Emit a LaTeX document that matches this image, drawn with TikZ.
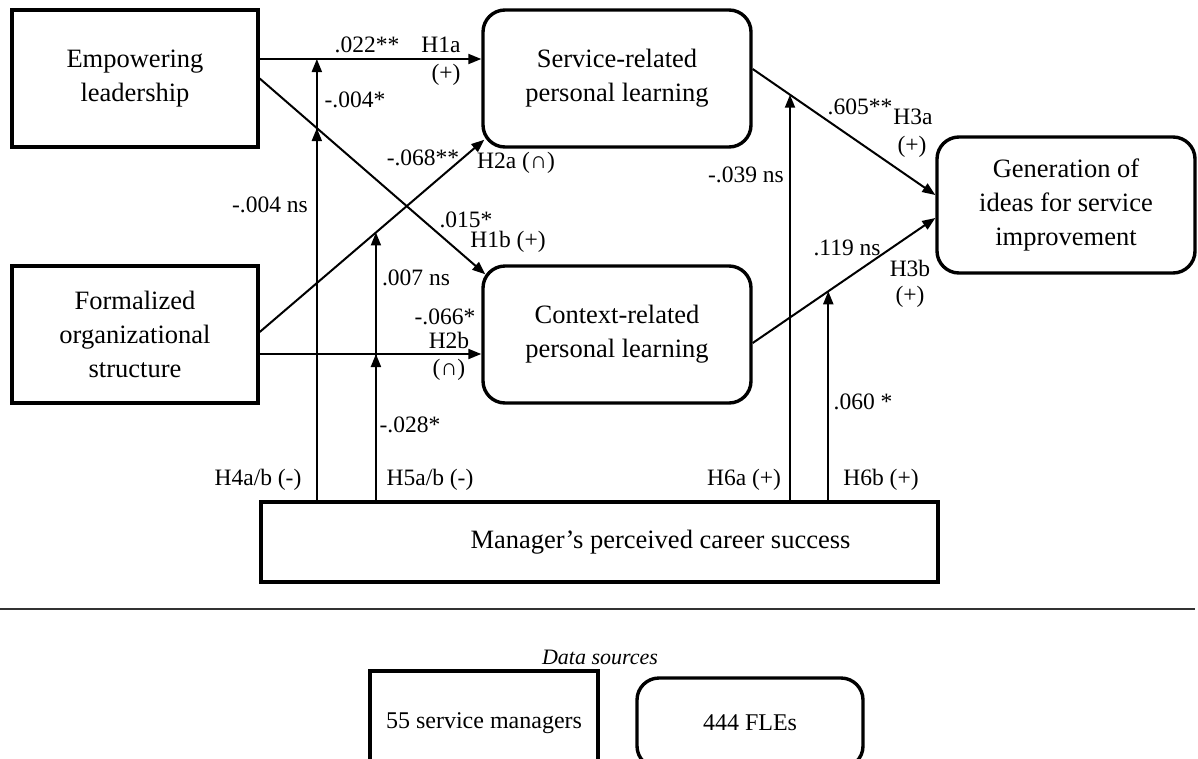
\documentclass[tikz,border=0pt]{standalone}
\usepackage{fontspec}
\setmainfont{Liberation Serif}
\usetikzlibrary{arrows.meta,calc}
\begin{document}
\begin{tikzpicture}[x=1pt,y=-1pt,
  every node/.style={font=\fontsize{23.5}{34}\selectfont, inner sep=0pt},
  boxfont/.style={font=\fontsize{26.5}{34}\selectfont},
  sqbox/.style={draw, line width=3.4pt, align=center, boxfont},
  rbox/.style={draw, line width=3.4pt, rounded corners=22pt, align=center, boxfont},
  arr/.style={line width=2pt, -{Triangle[length=13pt,width=10pt]}},
  lbl/.style={anchor=center}]
\useasboundingbox (0,0) rectangle (1198,758);

% boxes
\node[sqbox, minimum width=246pt, minimum height=137pt] (emp) at (135,78.5) {Empowering\\leadership};
\node[sqbox, minimum width=246pt, minimum height=137pt] (form) at (135,334.5) {Formalized\\organizational\\structure};
\node[rbox, minimum width=268pt, minimum height=137pt] (serv) at (617,78.5) {Service-related\\personal learning};
\node[rbox, minimum width=268pt, minimum height=137pt] (ctx) at (617,334.5) {Context-related\\personal learning};
\node[rbox, minimum width=258pt, minimum height=136pt] (gen) at (1066,205) {Generation of\\ideas for service\\improvement};
\node[sqbox, minimum width=677pt, minimum height=80pt] (man) at (599.5,542) {\hspace*{122pt}Manager’s perceived career success};

% connector start points
\coordinate (a1) at ($(emp.east)+(0,-19.5)$);
\coordinate (b1) at ($(form.east)+(0,-2.5)$);
\coordinate (b2) at ($(form.east)+(0,19.5)$);
\coordinate (c1) at ($(serv.east)+(0,-9.5)$);
\coordinate (c2) at ($(ctx.east)+(0,8.5)$);

% main paths
\draw[arr] (a1) -- (serv.west |- a1);
\draw[arr] (emp.east) -- coordinate[pos=0.2533] (p1) ($(ctx.north west)+(4,10)$);
\draw[arr] (b1) -- coordinate[pos=0.5175] (p2) ($(serv.south west)+(3,-9)$);
\draw[arr] (b2) -- (ctx.west |- b2);
\draw[arr] (c1) -- coordinate[pos=0.2043] (p3) ($(gen.west)+(0,-10)$);
\draw[arr] (c2) -- coordinate[pos=0.414] (p4) ($(gen.west)+(0,13)$);

% moderator paths
\draw[arr] (p1 |- man.north) -- (p1 |- a1);
\draw[arr] (p1 |- man.north) -- (p1);
\draw[arr] (p2 |- man.north) -- (p2);
\draw[arr] (p2 |- man.north) -- (p2 |- b2);
\draw[arr] (p3 |- man.north) -- (p3);
\draw[arr] (p4 |- man.north) -- (p4);

% labels
\node[lbl] (l1) at (367,45) {.022**};
\node[lbl] (l2) at (441,45) {H1a};
\node[lbl] (l3) at (446,75) {(+)};
\node[lbl] (l4) at (355,100) {-.004*};
\node[lbl] (l5) at (423,158) {-.068**};
\node[lbl] (l6) at (516,163) {H2a (∩)};
\node[lbl] (l7) at (270,205) {-.004 ns};
\node[lbl] (l8) at (466,220) {.015*};
\node[lbl] (l9) at (508,242) {H1b (+)};
\node[lbl] (l10) at (416,278) {.007 ns};
\node[lbl] (l11) at (445,317) {-.066*};
\node[lbl] (l12) at (449,340) {H2b};
\node[lbl] (l13) at (449,370) {(∩)};
\node[lbl] (l14) at (410,425) {-.028*};
\node[lbl] (l15) at (258,480) {H4a/b (-)};
\node[lbl] (l16) at (430,480) {H5a/b (-)};
\node[lbl] (l17) at (744,480) {H6a (+)};
\node[lbl] (l18) at (881,480) {H6b (+)};
\node[lbl] (l19) at (863,402) {.060 *};
\node[lbl] (l20) at (746,175) {-.039 ns};
\node[lbl] (l21) at (860,107) {.605**};
\node[lbl] (l22) at (913,117) {H3a};
\node[lbl] (l23) at (912,147) {(+)};
\node[lbl] (l24) at (847,248) {.119 ns};
\node[lbl] (l25) at (910,268) {H3b};
\node[lbl] (l26) at (910,297) {(+)};

% separator and data sources
\draw[line width=1.2pt, black!80] (0,609) -- (1195,609);
\node[font=\fontsize{22}{30}\selectfont\itshape] (ds) at (600,657) {Data sources};
\node[sqbox, font=\fontsize{24}{30}\selectfont, minimum width=228pt, minimum height=104pt] (sm) at (484,723) {55 service managers};
\node[rbox, font=\fontsize{24}{30}\selectfont, minimum width=226pt, minimum height=90pt] (fle) at (750,723) {444 FLEs};
\end{tikzpicture}
\end{document}
